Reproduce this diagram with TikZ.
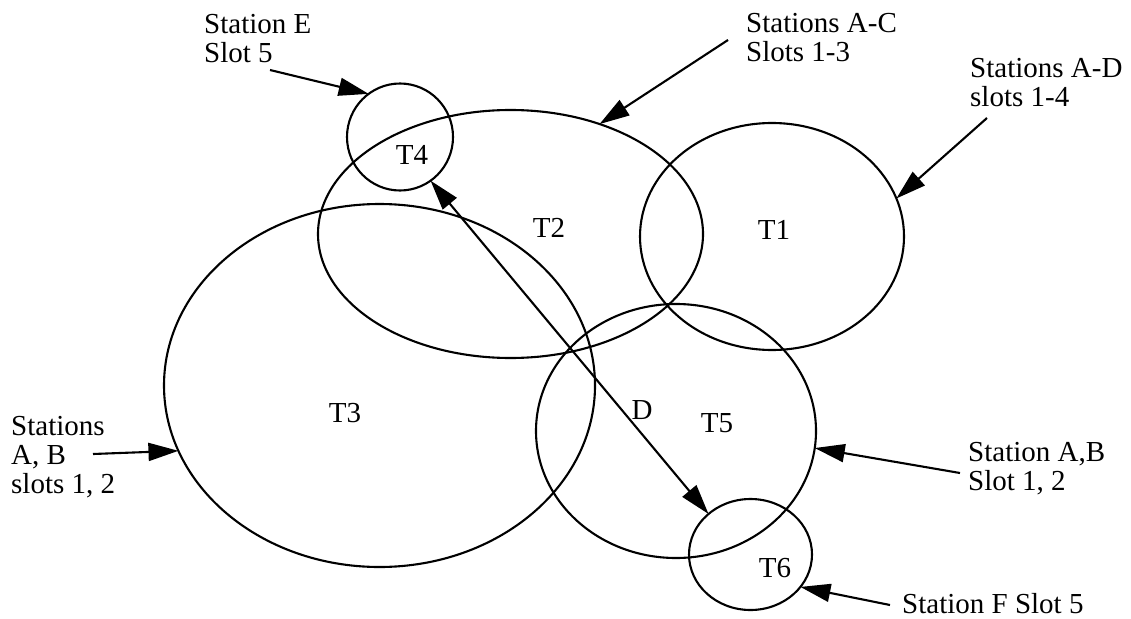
\documentclass[tikz,border=0pt]{standalone}
\usepackage{fontspec}
\setmainfont{Liberation Serif}
\usetikzlibrary{arrows.meta,shapes.geometric}
\begin{document}
\begin{tikzpicture}[x=1pt,y=-1pt,
  cell/.style={draw, ellipse, line width=2.1pt, inner sep=0pt, outer sep=0pt},
  txt/.style={font=\fontsize{29}{29}\selectfont, inner sep=0pt},
  lbl/.style={txt, align=left, anchor=north west},
  pointer/.style={line width=2.1pt, -{Triangle[length=30pt,width=18pt]}},
  both/.style={line width=2.1pt, {Triangle[length=30pt,width=18pt]}-{Triangle[length=30pt,width=18pt]}}
]
\fill[white] (0,0) rectangle (1131,618);
\useasboundingbox (0,0) rectangle (1131,618);

% coverage areas
\node[cell, minimum width=106pt, minimum height=107pt] (t4) at (400,137) {};
\node[cell, minimum width=385pt, minimum height=248pt] (t2) at (510.5,234) {};
\node[cell, minimum width=264pt, minimum height=227pt] (t1) at (772,236.5) {};
\node[cell, minimum width=431pt, minimum height=363pt] (t3) at (379.5,385.5) {};
\node[cell, minimum width=280pt, minimum height=254pt] (t5) at (676,431) {};
\node[cell, minimum width=123pt, minimum height=111pt] (t6) at (750.5,554.5) {};

% area names
\node[txt] (n4) at (412,155) {T4};
\node[txt] (n2) at (549,228) {T2};
\node[txt] (n1) at (774,230) {T1};
\node[txt] (n3) at (345,413) {T3};
\node[txt] (n5) at (717,423) {T5};
\node[txt] (n6) at (775,568) {T6};
\node[txt] (nd) at (642,410) {D};

% station / slot annotations
\node[lbl] (lE)  at (204,14)  {Station E\\Slot 5};
\node[lbl] (lAC) at (746,13)  {Stations A-C\\Slots 1-3};
\node[lbl] (lAD) at (970,58)  {Stations A-D\\slots 1-4};
\node[lbl] (lAB) at (11,416)  {Stations\\A, B\\slots 1, 2};
\node[lbl] (lAB2) at (968,442) {Station A,B\\Slot 1, 2};
\node[lbl] (lF)  at (902,593) {Station F Slot 5};

% arrow tails next to the annotations
\coordinate (eTail)   at (270,70);
\coordinate (acTail)  at (728,40);
\coordinate (adTail)  at (987,118);
\coordinate (abTail)  at (93,454);
\coordinate (ab2Tail) at (960,473);
\coordinate (fTail)   at (890,605);

\draw[pointer] (eTail) -- (t4.126);
\draw[pointer] (acTail) -- (t2.51);
\draw[pointer] (adTail) -- (t1.17);
\draw[pointer] (abTail) -- (t3.198.6);
\draw[pointer] (ab2Tail) -- (t5.-7.3);
\draw[pointer] (fTail) -- (t6.-33.8);

% link between T4 and T6
\draw[both] (t4.-55.4) -- (t6.136.3);
\end{tikzpicture}
\end{document}
